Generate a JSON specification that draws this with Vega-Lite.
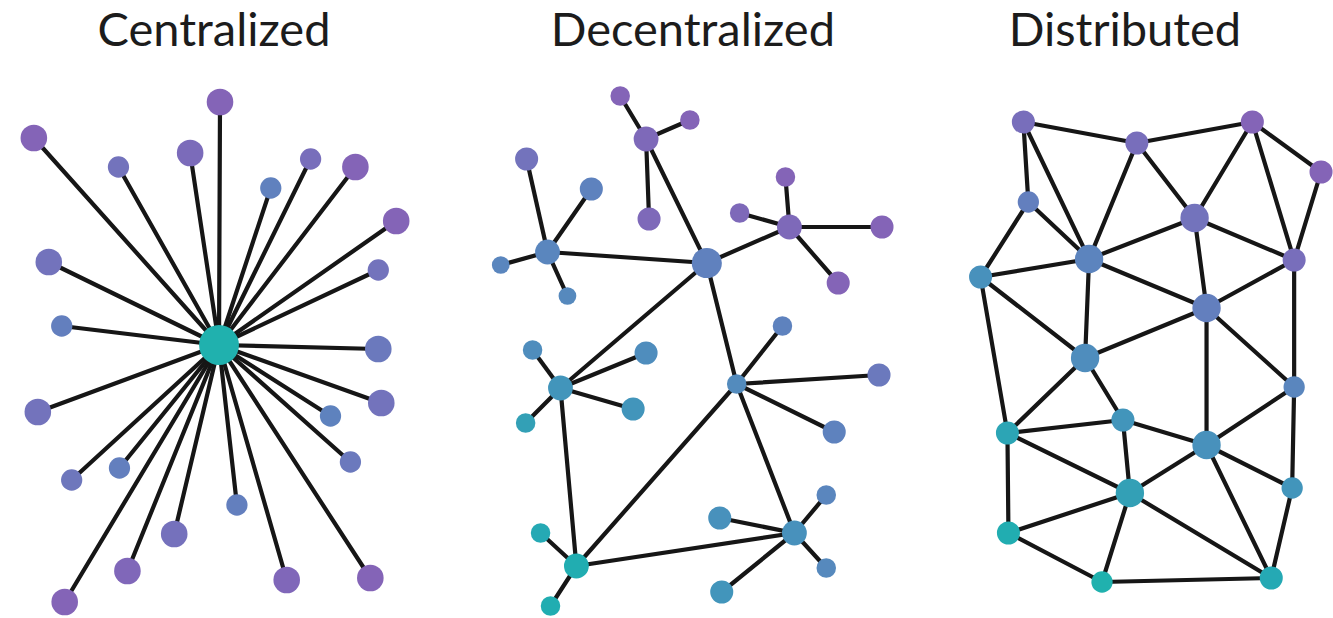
{
  "$schema": "https://vega.github.io/schema/vega-lite/v6.json",
  "width": 1333,
  "height": 618,
  "autosize": {"type": "fit", "contains": "padding"},
  "padding": 0,
  "background": "#ffffff",
  "config": {"view": {"stroke": null}},
  "datasets": {
    "nodes": [
      {"id": "c0", "x": 220, "y": 345, "weight": 22.5, "tone": 0},
      {"id": "c1", "x": 34, "y": 138, "weight": 15, "tone": 0.95},
      {"id": "c2", "x": 221, "y": 102, "weight": 15, "tone": 0.95},
      {"id": "c3", "x": 119, "y": 167, "weight": 12, "tone": 0.8},
      {"id": "c4", "x": 191, "y": 153, "weight": 15, "tone": 0.88},
      {"id": "c5", "x": 272, "y": 188, "weight": 12, "tone": 0.62},
      {"id": "c6", "x": 312, "y": 159, "weight": 12, "tone": 0.85},
      {"id": "c7", "x": 357, "y": 167, "weight": 15, "tone": 0.95},
      {"id": "c8", "x": 398, "y": 221, "weight": 15, "tone": 0.95},
      {"id": "c9", "x": 49, "y": 262, "weight": 15, "tone": 0.8},
      {"id": "c10", "x": 380, "y": 270, "weight": 12, "tone": 0.8},
      {"id": "c11", "x": 62, "y": 326, "weight": 12, "tone": 0.65},
      {"id": "c12", "x": 380, "y": 349, "weight": 15, "tone": 0.72},
      {"id": "c13", "x": 38, "y": 412, "weight": 15, "tone": 0.8},
      {"id": "c14", "x": 383, "y": 403, "weight": 15, "tone": 0.8},
      {"id": "c15", "x": 332, "y": 416, "weight": 12, "tone": 0.6},
      {"id": "c16", "x": 72, "y": 480, "weight": 12, "tone": 0.75},
      {"id": "c17", "x": 120, "y": 468, "weight": 12, "tone": 0.65},
      {"id": "c18", "x": 352, "y": 462, "weight": 12, "tone": 0.72},
      {"id": "c19", "x": 238, "y": 505, "weight": 12, "tone": 0.65},
      {"id": "c20", "x": 175, "y": 534, "weight": 15, "tone": 0.82},
      {"id": "c21", "x": 128, "y": 571, "weight": 15, "tone": 0.92},
      {"id": "c22", "x": 288, "y": 580, "weight": 15, "tone": 0.92},
      {"id": "c23", "x": 372, "y": 578, "weight": 15, "tone": 0.95},
      {"id": "c24", "x": 65, "y": 602, "weight": 15, "tone": 0.95},

      {"id": "dA", "x": 710, "y": 263, "weight": 17, "tone": 0.62},
      {"id": "dB", "x": 550, "y": 252, "weight": 14, "tone": 0.55},
      {"id": "dC", "x": 649, "y": 139, "weight": 14, "tone": 0.9},
      {"id": "dD", "x": 793, "y": 227, "weight": 14, "tone": 0.9},
      {"id": "dE", "x": 563, "y": 388, "weight": 14, "tone": 0.35},
      {"id": "dF", "x": 740, "y": 384, "weight": 11, "tone": 0.48},
      {"id": "dG", "x": 579, "y": 566, "weight": 14, "tone": 0.05},
      {"id": "dH", "x": 798, "y": 533, "weight": 14, "tone": 0.4},
      {"id": "dC1", "x": 623, "y": 96, "weight": 11, "tone": 0.95},
      {"id": "dC2", "x": 693, "y": 120, "weight": 11, "tone": 0.95},
      {"id": "dC3", "x": 652, "y": 219, "weight": 13, "tone": 0.9},
      {"id": "dB1", "x": 529, "y": 159, "weight": 13, "tone": 0.8},
      {"id": "dB2", "x": 594, "y": 189, "weight": 13, "tone": 0.6},
      {"id": "dB3", "x": 503, "y": 265, "weight": 10, "tone": 0.55},
      {"id": "dB4", "x": 570, "y": 296, "weight": 10, "tone": 0.5},
      {"id": "dD1", "x": 789, "y": 177, "weight": 11, "tone": 0.95},
      {"id": "dD2", "x": 743, "y": 213, "weight": 11, "tone": 0.9},
      {"id": "dD3", "x": 886, "y": 227, "weight": 13, "tone": 0.95},
      {"id": "dD4", "x": 842, "y": 283, "weight": 13, "tone": 0.95},
      {"id": "dE1", "x": 535, "y": 350, "weight": 11, "tone": 0.45},
      {"id": "dE2", "x": 649, "y": 353, "weight": 13, "tone": 0.45},
      {"id": "dE3", "x": 636, "y": 409, "weight": 13, "tone": 0.35},
      {"id": "dE4", "x": 528, "y": 423, "weight": 11, "tone": 0.2},
      {"id": "dF1", "x": 786, "y": 326, "weight": 11, "tone": 0.6},
      {"id": "dF2", "x": 883, "y": 375, "weight": 13, "tone": 0.72},
      {"id": "dF3", "x": 838, "y": 432, "weight": 13, "tone": 0.6},
      {"id": "dG1", "x": 543, "y": 533, "weight": 11, "tone": 0.1},
      {"id": "dG2", "x": 553, "y": 606, "weight": 11, "tone": 0.05},
      {"id": "dH1", "x": 830, "y": 495, "weight": 11, "tone": 0.55},
      {"id": "dH2", "x": 723, "y": 518, "weight": 13, "tone": 0.4},
      {"id": "dH3", "x": 830, "y": 568, "weight": 11, "tone": 0.5},
      {"id": "dH4", "x": 725, "y": 592, "weight": 13, "tone": 0.35},

      {"id": "n1", "x": 1028, "y": 122, "weight": 13, "tone": 0.85},
      {"id": "n2", "x": 1142, "y": 143, "weight": 13, "tone": 0.85},
      {"id": "n3", "x": 1258, "y": 122, "weight": 13, "tone": 0.95},
      {"id": "n4", "x": 1327, "y": 172, "weight": 13, "tone": 0.95},
      {"id": "n5", "x": 1033, "y": 202, "weight": 12, "tone": 0.65},
      {"id": "n6", "x": 1200, "y": 218, "weight": 16, "tone": 0.8},
      {"id": "n7", "x": 1094, "y": 259, "weight": 16, "tone": 0.58},
      {"id": "n8", "x": 1300, "y": 260, "weight": 13, "tone": 0.85},
      {"id": "n9", "x": 985, "y": 277, "weight": 13, "tone": 0.4},
      {"id": "n10", "x": 1212, "y": 308, "weight": 16, "tone": 0.65},
      {"id": "n11", "x": 1090, "y": 358, "weight": 16, "tone": 0.45},
      {"id": "n12", "x": 1300, "y": 387, "weight": 12, "tone": 0.55},
      {"id": "n13", "x": 1128, "y": 420, "weight": 13, "tone": 0.35},
      {"id": "n14", "x": 1012, "y": 433, "weight": 13, "tone": 0.15},
      {"id": "n15", "x": 1212, "y": 445, "weight": 16, "tone": 0.4},
      {"id": "n16", "x": 1298, "y": 488, "weight": 12, "tone": 0.35},
      {"id": "n17", "x": 1135, "y": 493, "weight": 16, "tone": 0.2},
      {"id": "n18", "x": 1013, "y": 533, "weight": 13, "tone": 0.05},
      {"id": "n19", "x": 1107, "y": 582, "weight": 12, "tone": 0.0},
      {"id": "n20", "x": 1277, "y": 578, "weight": 13, "tone": 0.1}
    ],
    "edges": [
      {"s": "c0", "t": "c1"}, {"s": "c0", "t": "c2"}, {"s": "c0", "t": "c3"}, {"s": "c0", "t": "c4"},
      {"s": "c0", "t": "c5"}, {"s": "c0", "t": "c6"}, {"s": "c0", "t": "c7"}, {"s": "c0", "t": "c8"},
      {"s": "c0", "t": "c9"}, {"s": "c0", "t": "c10"}, {"s": "c0", "t": "c11"}, {"s": "c0", "t": "c12"},
      {"s": "c0", "t": "c13"}, {"s": "c0", "t": "c14"}, {"s": "c0", "t": "c15"}, {"s": "c0", "t": "c16"},
      {"s": "c0", "t": "c17"}, {"s": "c0", "t": "c18"}, {"s": "c0", "t": "c19"}, {"s": "c0", "t": "c20"},
      {"s": "c0", "t": "c21"}, {"s": "c0", "t": "c22"}, {"s": "c0", "t": "c23"}, {"s": "c0", "t": "c24"},

      {"s": "dA", "t": "dB"}, {"s": "dA", "t": "dC"}, {"s": "dA", "t": "dD"}, {"s": "dA", "t": "dE"},
      {"s": "dA", "t": "dF"}, {"s": "dE", "t": "dG"}, {"s": "dF", "t": "dG"}, {"s": "dF", "t": "dH"},
      {"s": "dG", "t": "dH"},
      {"s": "dC", "t": "dC1"}, {"s": "dC", "t": "dC2"}, {"s": "dC", "t": "dC3"},
      {"s": "dB", "t": "dB1"}, {"s": "dB", "t": "dB2"}, {"s": "dB", "t": "dB3"}, {"s": "dB", "t": "dB4"},
      {"s": "dD", "t": "dD1"}, {"s": "dD", "t": "dD2"}, {"s": "dD", "t": "dD3"}, {"s": "dD", "t": "dD4"},
      {"s": "dE", "t": "dE1"}, {"s": "dE", "t": "dE2"}, {"s": "dE", "t": "dE3"}, {"s": "dE", "t": "dE4"},
      {"s": "dF", "t": "dF1"}, {"s": "dF", "t": "dF2"}, {"s": "dF", "t": "dF3"},
      {"s": "dG", "t": "dG1"}, {"s": "dG", "t": "dG2"},
      {"s": "dH", "t": "dH1"}, {"s": "dH", "t": "dH2"}, {"s": "dH", "t": "dH3"}, {"s": "dH", "t": "dH4"},

      {"s": "n1", "t": "n2"}, {"s": "n2", "t": "n3"}, {"s": "n3", "t": "n4"}, {"s": "n1", "t": "n5"},
      {"s": "n1", "t": "n7"}, {"s": "n2", "t": "n7"}, {"s": "n2", "t": "n6"}, {"s": "n3", "t": "n6"},
      {"s": "n3", "t": "n8"}, {"s": "n4", "t": "n8"}, {"s": "n5", "t": "n7"}, {"s": "n5", "t": "n9"},
      {"s": "n9", "t": "n7"}, {"s": "n7", "t": "n6"}, {"s": "n6", "t": "n8"}, {"s": "n6", "t": "n10"},
      {"s": "n7", "t": "n10"}, {"s": "n8", "t": "n10"}, {"s": "n9", "t": "n14"}, {"s": "n9", "t": "n11"},
      {"s": "n7", "t": "n11"}, {"s": "n10", "t": "n11"}, {"s": "n10", "t": "n15"}, {"s": "n10", "t": "n12"},
      {"s": "n8", "t": "n12"}, {"s": "n11", "t": "n14"}, {"s": "n11", "t": "n13"}, {"s": "n14", "t": "n13"},
      {"s": "n14", "t": "n17"}, {"s": "n14", "t": "n18"}, {"s": "n13", "t": "n17"}, {"s": "n13", "t": "n15"},
      {"s": "n12", "t": "n15"}, {"s": "n12", "t": "n16"}, {"s": "n15", "t": "n16"}, {"s": "n15", "t": "n17"},
      {"s": "n15", "t": "n20"}, {"s": "n16", "t": "n20"}, {"s": "n17", "t": "n18"}, {"s": "n17", "t": "n19"},
      {"s": "n17", "t": "n20"}, {"s": "n18", "t": "n19"}, {"s": "n19", "t": "n20"}
    ],
    "titles": [
      {"label": "Centralized", "x": 215, "y": 46},
      {"label": "Decentralized", "x": 696, "y": 46},
      {"label": "Distributed", "x": 1130, "y": 46}
    ]
  },
  "layer": [
    {
      "data": {"name": "edges"},
      "transform": [
        {"lookup": "s", "from": {"data": {"name": "nodes"}, "key": "id", "fields": ["x", "y"]}, "as": ["sx", "sy"]},
        {"lookup": "t", "from": {"data": {"name": "nodes"}, "key": "id", "fields": ["x", "y"]}, "as": ["tx", "ty"]}
      ],
      "mark": {"type": "rule", "color": "#161616", "strokeWidth": 4.2, "strokeCap": "round"},
      "encoding": {
        "x": {"field": "sx", "type": "quantitative", "scale": {"domain": [0, 1333], "nice": false, "zero": false}, "axis": null},
        "y": {"field": "sy", "type": "quantitative", "scale": {"domain": [0, 618], "nice": false, "zero": false, "reverse": true}, "axis": null},
        "x2": {"field": "tx"},
        "y2": {"field": "ty"}
      }
    },
    {
      "data": {"name": "nodes"},
      "mark": {"type": "circle", "opacity": 1},
      "encoding": {
        "x": {"field": "x", "type": "quantitative", "scale": {"domain": [0, 1333], "nice": false, "zero": false}, "axis": null},
        "y": {"field": "y", "type": "quantitative", "scale": {"domain": [0, 618], "nice": false, "zero": false, "reverse": true}, "axis": null},
        "size": {"field": "weight", "type": "quantitative", "scale": {"type": "pow", "exponent": 2, "domain": [0, 20], "range": [0, 1257]}, "legend": null},
        "color": {"field": "tone", "type": "quantitative", "scale": {"domain": [0, 0.25, 0.5, 0.75, 1], "range": ["#20b1ae", "#3b9cb6", "#5689bd", "#6e77bc", "#8a5eb4"]}, "legend": null}
      }
    },
    {
      "data": {"name": "titles"},
      "mark": {"type": "text", "font": "Lato", "fontSize": 47, "fontWeight": "normal", "color": "#1c1c1c", "align": "center", "baseline": "alphabetic"},
      "encoding": {
        "x": {"field": "x", "type": "quantitative", "scale": {"domain": [0, 1333], "nice": false, "zero": false}, "axis": null},
        "y": {"field": "y", "type": "quantitative", "scale": {"domain": [0, 618], "nice": false, "zero": false, "reverse": true}, "axis": null},
        "text": {"field": "label"}
      }
    }
  ]
}
